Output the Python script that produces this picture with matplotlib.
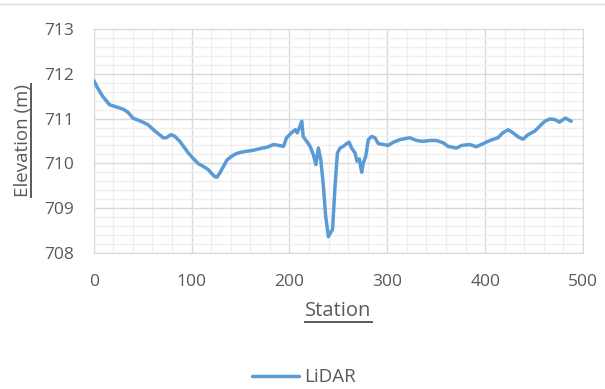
import matplotlib
matplotlib.use('Agg')
import matplotlib.pyplot as plt
from matplotlib.lines import Line2D
from matplotlib.ticker import MultipleLocator

# LiDAR profile
station = [0, 4, 9, 16, 23, 30, 35, 40, 47, 52, 55.5, 61, 66, 71, 74, 79, 83,
           88, 93, 97, 102, 107, 112, 117, 120.5, 124, 126, 129, 132.5, 136,
           141, 146, 151, 156.5, 163, 170, 177, 184, 189, 194, 197, 202, 206,
           208, 210, 212.6, 214, 217.7, 221, 224.5, 227, 229.6, 232, 234.7,
           237, 239.8, 242, 244, 246.6, 249, 251.7, 255, 258.5, 261, 263.6,
           267, 269, 271.4, 273.8, 275.5, 278, 280.6, 284, 287.4, 290.8, 296,
           301, 306, 313, 323, 330, 336.7, 343.5, 350, 357, 362, 370.7, 375.9,
           384.4, 391, 398, 404.8, 413, 418, 423.5, 428.6, 433.7, 438.8, 443.9,
           450.7, 455.8, 461, 466, 471, 476, 482, 488]
elevation = [711.85, 711.68, 711.50, 711.31, 711.26, 711.21, 711.14, 711.01,
             710.95, 710.90, 710.86, 710.75, 710.66, 710.57, 710.57, 710.64,
             710.60, 710.49, 710.34, 710.22, 710.10, 709.99, 709.93, 709.86,
             709.77, 709.70, 709.69, 709.79, 709.93, 710.07, 710.16, 710.22,
             710.25, 710.27, 710.29, 710.33, 710.36, 710.42, 710.40, 710.38,
             710.57, 710.68, 710.75, 710.68, 710.79, 710.94, 710.60, 710.49,
             710.38, 710.19, 709.97, 710.34, 710.08, 709.49, 708.82, 708.36,
             708.45, 708.52, 709.49, 710.23, 710.34, 710.38, 710.44, 710.47,
             710.34, 710.23, 710.05, 710.10, 709.80, 710.01, 710.16, 710.53,
             710.60, 710.57, 710.44, 710.42, 710.40, 710.47, 710.53, 710.57,
             710.51, 710.49, 710.51, 710.51, 710.46, 710.38, 710.34, 710.40,
             710.42, 710.37, 710.44, 710.51, 710.57, 710.68, 710.75, 710.68,
             710.59, 710.54, 710.64, 710.72, 710.83, 710.94, 710.99, 710.98,
             710.92, 711.01, 710.94]

xticks = [0, 100, 200, 300, 400, 500]
yticks = [708, 709, 710, 711, 712, 713]

plt.rcParams['font.family'] = ['Open Sans', 'DejaVu Sans']

text_color = '#595959'
fig = plt.figure(figsize=(6.05, 3.89), dpi=100)
ax = fig.add_axes([0.155, 0.350, 0.8086, 0.5754])

ax.plot(station, elevation, color='#5B9BD5', lw=2.5, label='LiDAR',
        solid_capstyle='round', solid_joinstyle='round', zorder=3)

ax.set_xlim(0, 500)
ax.set_ylim(708, 713)
ax.set_xticks(xticks)
ax.set_yticks(yticks)
ax.xaxis.set_minor_locator(MultipleLocator(20))
ax.yaxis.set_minor_locator(MultipleLocator(0.2))
ax.grid(which='major', color='#D9D9D9', lw=1.0, zorder=1)
ax.grid(which='minor', color='#EFEFEF', lw=0.9, zorder=0)
ax.set_axisbelow(True)
ax.tick_params(which='both', length=0, labelsize=12.5, colors=text_color)
ax.tick_params(axis='x', pad=15)
ax.tick_params(axis='y', pad=14)
for sp in ax.spines.values():
    sp.set_color('#D9D9D9')

xlab = ax.set_xlabel('Station', fontsize=14.5, color=text_color, labelpad=8)
ylab = ax.set_ylabel('Elevation (m)', fontsize=13.5, color=text_color,
                     labelpad=9)

fig.legend(loc='center', bbox_to_anchor=(0.502, 0.03), frameon=False,
           fontsize=13.5, labelcolor=text_color, handlelength=2.55,
           handletextpad=0.25)

fig.add_artist(Line2D([0, 1], [1 - 3.5 / 389, 1 - 3.5 / 389],
                      color='#D9D9D9', lw=1.0))

# underline the axis titles (Excel style), just under the baseline
fig.canvas.draw()
renderer = fig.canvas.get_renderer()
W, H = fig.bbox.width, fig.bbox.height

bb = xlab.get_window_extent(renderer)
_, _, d = renderer.get_text_width_height_descent('Station', xlab.get_fontproperties(), ismath=False)
yy = (bb.y0 + d - 1.5) / H
fig.add_artist(Line2D([bb.x0 / W, bb.x1 / W], [yy, yy], color=text_color, lw=1.4))

bb = ylab.get_window_extent(renderer)
_, _, d = renderer.get_text_width_height_descent('Elevation (m)', ylab.get_fontproperties(), ismath=False)
xx = (bb.x1 - d + 2.0) / W
fig.add_artist(Line2D([xx, xx], [bb.y0 / H, bb.y1 / H], color=text_color, lw=1.4))

fig.savefig('out.png', dpi=100)
